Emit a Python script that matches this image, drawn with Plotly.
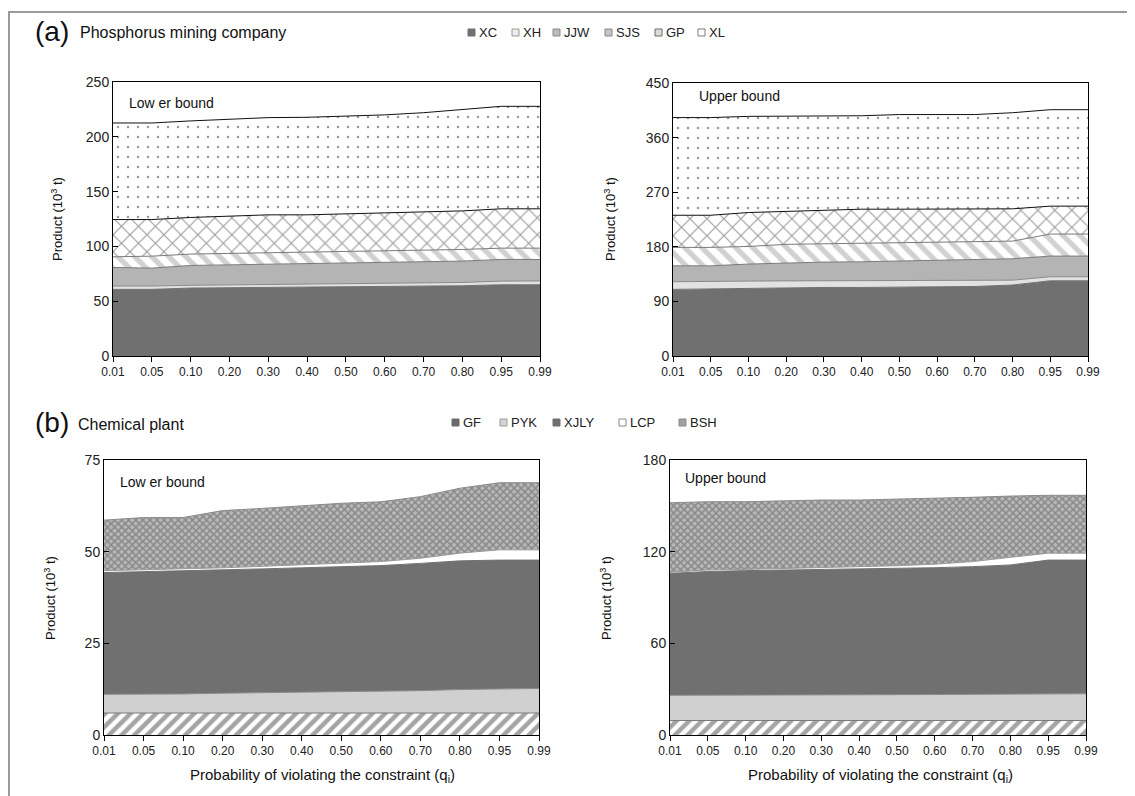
import plotly.graph_objects as go

q_labels = ["0.01", "0.05", "0.10", "0.20", "0.30", "0.40", "0.50", "0.60", "0.70", "0.80", "0.95", "0.99"]

# (a) Phosphorus mining company - lower bound (10^3 t)
pl_XC = [60.8, 60.8, 62.0, 62.3, 62.6, 62.9, 63.2, 63.3, 63.6, 64.1, 65.0, 65.0]
pl_XH = [3.0, 3.0, 2.5, 2.5, 2.5, 2.5, 2.5, 2.7, 2.9, 3.0, 3.3, 3.5]
pl_JJW = [17.0, 16.4, 18.1, 18.4, 18.7, 19.0, 18.7, 19.0, 19.2, 19.5, 19.8, 19.6]
pl_SJS = [9.7, 10.9, 10.4, 10.4, 10.4, 10.1, 10.4, 10.4, 10.3, 10.6, 10.3, 10.3]
pl_GP = [34.0, 33.4, 33.4, 34.0, 34.6, 34.3, 35.2, 35.2, 35.5, 35.2, 35.9, 35.9]
pl_XL = [88.1, 88.1, 88.1, 88.4, 88.7, 89.0, 89.0, 89.4, 90.5, 92.6, 93.5, 93.5]

# (a) Phosphorus mining company - upper bound
pu_XC = [109.8, 110.9, 112.0, 112.5, 113.0, 113.0, 113.6, 114.0, 114.6, 117.0, 124.0, 124.0]
pu_XH = [12.6, 11.5, 11.5, 11.3, 11.0, 11.2, 10.8, 10.6, 10.2, 8.0, 6.6, 6.6]
pu_JJW = [26.3, 26.3, 28.0, 29.9, 30.8, 31.1, 32.0, 32.9, 33.8, 35.3, 34.1, 34.1]
pu_SJS = [30.3, 30.3, 29.1, 30.3, 30.2, 30.7, 30.2, 30.2, 30.2, 29.1, 36.3, 36.3]
pu_GP = [53.0, 53.0, 55.9, 54.7, 55.0, 56.0, 55.4, 54.3, 53.2, 53.2, 46.0, 46.0]
pu_XL = [161.0, 161.0, 158.5, 156.3, 155.0, 154.0, 156.0, 156.0, 156.0, 158.4, 159.0, 159.0]

# (b) Chemical plant - lower bound
cl_GF = [6.0, 6.0, 6.0, 6.0, 6.0, 6.0, 6.0, 6.0, 6.0, 6.0, 6.0, 6.0]
cl_PYK = [5.1, 5.1, 5.2, 5.4, 5.5, 5.6, 5.7, 5.9, 6.1, 6.4, 6.6, 6.7]
cl_XJLY = [33.2, 33.4, 33.6, 33.6, 33.8, 34.0, 34.2, 34.3, 34.7, 35.1, 35.1, 35.0]
cl_LCP = [0.5, 0.5, 0.5, 0.6, 0.7, 0.8, 0.9, 1.1, 1.4, 2.1, 2.8, 2.8]
cl_BSH = [13.8, 14.3, 14.0, 15.6, 15.8, 16.1, 16.4, 16.3, 16.8, 17.7, 18.3, 18.3]

# (b) Chemical plant - upper bound
cu_GF = [9.5, 9.5, 9.5, 9.5, 9.5, 9.5, 9.5, 9.5, 9.5, 9.5, 9.5, 9.5]
cu_PYK = [16.5, 16.5, 16.6, 16.7, 16.8, 16.8, 16.9, 17.0, 17.1, 17.2, 17.4, 17.5]
cu_XJLY = [79.8, 81.0, 81.5, 81.8, 81.7, 82.1, 82.6, 83.0, 83.6, 84.6, 87.6, 87.5]
cu_LCP = [0.7, 1.0, 0.8, 1.0, 1.5, 1.6, 1.8, 2.3, 3.3, 5.0, 4.5, 4.5]
cu_BSH = [45.5, 44.7, 44.3, 44.2, 44.3, 43.8, 43.5, 43.2, 42.1, 40.1, 37.9, 37.9]

legend_a = ["XC", "XH", "JJW", "SJS", "GP", "XL"]
legend_b = ["GF", "PYK", "XJLY", "LCP", "BSH"]

W, H = 1135, 796
OFF = 8  # page body margin in the browser
NARROW = "Liberation Sans Narrow, Arial Narrow, Liberation Sans, Arial"
SANS = "Liberation Sans, Arial, sans-serif"

def px_x(x):
    return (x - OFF) / W

def px_y(y):
    return 1 - (y - OFF) / H

styles = {
    "XC": dict(fillcolor="#707070", line="#707070", pattern=None, icon=("#707070", "#707070")),
    "XH": dict(fillcolor="#e2e2e2", line="#8a8a8a", pattern=None, icon=("#ececec", "#9a9a9a")),
    "JJW": dict(fillcolor="#b4b4b4", line="#7a7a7a", pattern=None, icon=("#bcbcbc", "#8a8a8a")),
    "SJS": dict(fillcolor="white", line="#7a7a7a",
                pattern=dict(shape="\\", fgcolor="#a4a4a4", bgcolor="white", size=12, solidity=0.45),
                icon=("#c4c4c4", "#8a8a8a")),
    "GP": dict(fillcolor="white", line="#111111",
               pattern=dict(shape="x", fgcolor="#333333", bgcolor="white", size=12, solidity=0.17),
               icon=("#dcdcdc", "#6a6a6a")),
    "XL": dict(fillcolor="white", line="#111111",
               pattern=dict(shape=".", fgcolor="#333333", bgcolor="white", size=10, solidity=0.05),
               icon=("white", "#7a7a7a")),
    "GF": dict(fillcolor="white", line="#7a7a7a",
               pattern=dict(shape="/", fgcolor="#4a4a4a", bgcolor="white", size=9, solidity=0.5),
               icon=("#6a6a6a", "#6a6a6a")),
    "PYK": dict(fillcolor="#d0d0d0", line="#8a8a8a", pattern=None, icon=("#d4d4d4", "#9a9a9a")),
    "XJLY": dict(fillcolor="#707070", line="#707070", pattern=None, icon=("#707070", "#707070")),
    "LCP": dict(fillcolor="white", line="#9a9a9a", pattern=None, icon=("white", "#8a8a8a")),
    "BSH": dict(fillcolor="#8a8a8a", line="#8a8a8a",
                pattern=dict(shape="x", fgcolor="#5a5a5a", bgcolor="#b8b8b8", size=5, solidity=0.5),
                icon=("#a0a0a0", "#8a8a8a")),
}

panels = [
    ("x", "y", "pa", [pl_XC, pl_XH, pl_JJW, pl_SJS, pl_GP, pl_XL], legend_a),
    ("x2", "y2", "pb", [pu_XC, pu_XH, pu_JJW, pu_SJS, pu_GP, pu_XL], legend_a),
    ("x3", "y3", "pc", [cl_GF, cl_PYK, cl_XJLY, cl_LCP, cl_BSH], legend_b),
    ("x4", "y4", "pd", [cu_GF, cu_PYK, cu_XJLY, cu_LCP, cu_BSH], legend_b),
]

fig = go.Figure()
xs = list(range(len(q_labels)))
for xa, ya, sg, series, names in panels:
    for name, vals in zip(names, series):
        st = styles[name]
        kw = dict(x=xs, y=vals, name=name, xaxis=xa, yaxis=ya, stackgroup=sg,
                  mode="lines", line=dict(color=st["line"], width=1),
                  fillcolor=st["fillcolor"], showlegend=False, hoverinfo="skip")
        if st["pattern"] is not None:
            kw["fillpattern"] = st["pattern"]
        fig.add_trace(go.Scatter(**kw))

def dom_x(a, b):
    return [px_x(a), px_x(b)]

def dom_y(top, bottom):
    return [px_y(bottom), px_y(top)]

axes_geo = {
    "": (dom_x(113, 540), dom_y(82, 356), [0, 250], [0, 50, 100, 150, 200, 250]),
    "2": (dom_x(673, 1088), dom_y(83, 356), [0, 450], [0, 90, 180, 270, 360, 450]),
    "3": (dom_x(104, 539), dom_y(460, 735), [0, 75], [0, 25, 50, 75]),
    "4": (dom_x(670, 1086), dom_y(460, 735), [0, 180], [0, 60, 120, 180]),
}
layout_axes = {}
for k, (dx, dy, yr, yt) in axes_geo.items():
    layout_axes["xaxis" + k] = dict(
        domain=dx, anchor="y" + k, range=[0, 11], tickvals=xs, ticktext=q_labels,
        showline=True, linecolor="black", linewidth=1, mirror=True, showgrid=False,
        zeroline=False, ticks="outside", ticklen=5, tickcolor="black", automargin=False,
        tickfont=dict(family=NARROW, size=12, color="#222"), fixedrange=True)
    layout_axes["yaxis" + k] = dict(
        domain=dy, anchor="x" + k, range=yr, tickvals=yt,
        showline=True, linecolor="black", linewidth=1, mirror=True, showgrid=False,
        zeroline=False, ticks="inside", ticklen=5, tickcolor="black", automargin=False,
        tickfont=dict(family=SANS, size=14, color="#222"), fixedrange=True)

annotations = []
shapes = []

def ann(text, x, y, size, family=SANS, angle=0, xanchor="left"):
    annotations.append(dict(text=text, x=px_x(x), y=px_y(y), xref="paper", yref="paper",
                            showarrow=False, xanchor=xanchor, yanchor="middle", textangle=angle,
                            font=dict(family=family, size=size, color="#111")))

ann("(a)", 33, 31, 28)
ann("Phosphorus mining company", 78, 33, 16)
ann("(b)", 33, 422, 28)
ann("Chemical plant", 76, 424, 16)
ann("Low er bound", 127, 103, 14)
ann("Upper bound", 697, 96, 14)
ann("Low er bound", 118, 482, 14)
ann("Upper bound", 683, 478, 14)
ann("Product (10<sup>3</sup> t)", 57, 219, 13, angle=-90, xanchor="center")
ann("Product (10<sup>3</sup> t)", 610, 219, 13, angle=-90, xanchor="center")
ann("Product (10<sup>3</sup> t)", 50, 598, 13, angle=-90, xanchor="center")
ann("Product (10<sup>3</sup> t)", 606, 598, 13, angle=-90, xanchor="center")
ann("Probability of violating the constraint (q<sub>i</sub>)", 322, 775, 15, family=NARROW, xanchor="center")
ann("Probability of violating the constraint (q<sub>i</sub>)", 880, 775, 15, family=NARROW, xanchor="center")

# manual legends (small squares + labels), as in the reference
def legend_row(names, xs_px, y_px):
    for name, x0 in zip(names, xs_px):
        fill, edge = styles[name]["icon"]
        shapes.append(dict(type="rect", xref="paper", yref="paper",
                           x0=px_x(x0), x1=px_x(x0 + 7), y0=px_y(y_px + 4), y1=px_y(y_px - 3),
                           fillcolor=fill, line=dict(color=edge, width=1)))
        annotations.append(dict(text=name, x=px_x(x0 + 9), y=px_y(y_px), xref="paper", yref="paper",
                                showarrow=False, xanchor="left", yanchor="middle",
                                font=dict(family=NARROW, size=13, color="#222")))

legend_row(legend_a, [468, 512, 553, 605, 655, 698], 32)
legend_row(legend_b, [452, 500, 553, 619, 679], 422)

shapes.append(dict(type="rect", xref="paper", yref="paper", x0=px_x(9), x1=px_x(1133),
                   y0=-0.05, y1=px_y(12), line=dict(color="#9a9a9a", width=2),
                   fillcolor="rgba(0,0,0,0)", layer="below"))

fig.update_layout(
    width=W, height=H, autosize=False,
    margin=dict(l=0, r=0, t=0, b=0, pad=0, autoexpand=False),
    paper_bgcolor="white", plot_bgcolor="white",
    font=dict(family=SANS, color="#111"),
    showlegend=False,
    annotations=annotations,
    shapes=shapes,
    **layout_axes,
)

fig.write_html("out.html")
